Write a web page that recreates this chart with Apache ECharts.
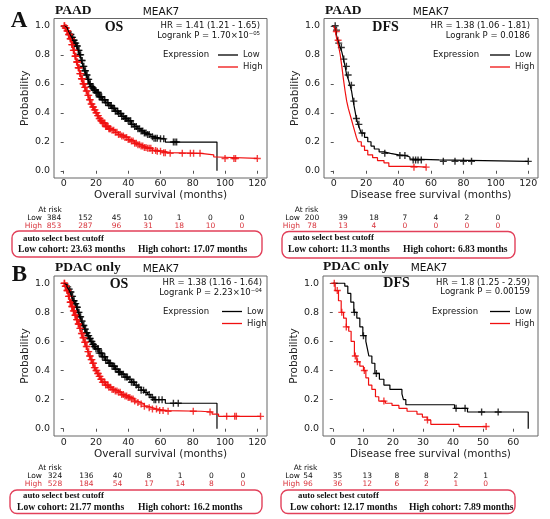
<!DOCTYPE html>
<html>
<head>
<meta charset="utf-8">
<script src="https://cdn.jsdelivr.net/npm/echarts@6/dist/echarts.min.js"></script>
<style>
html,body{margin:0;padding:0;background:#fff;}
#main{width:550px;height:519px;}
</style>
</head>
<body>
<div id="main"></div>
<script>
// KM curves: [months, survival]
var aOsLow = [[0,1],[1,0.99],[2,0.98],[3,0.96],[4,0.94],[5,0.92],[6,0.9],[7,0.88],[8,0.86],[9,0.83],[10,0.8],[11,0.76],[12,0.72],[13,0.69],[14,0.66],[15,0.63],[16,0.6],[17,0.58],[18,0.57],[19,0.555],[20,0.54],[22,0.51],[24,0.49],[26,0.47],[28,0.45],[30,0.43],[32,0.41],[34,0.395],[36,0.375],[38,0.36],[40,0.345],[42,0.32],[44,0.305],[46,0.29],[48,0.275],[50,0.26],[52,0.25],[54,0.235],[56,0.225],[60,0.22],[63,0.198],[95,0]];
var aOsHigh = [[0,1],[1,0.985],[2,0.965],[3,0.94],[4,0.91],[5,0.87],[6,0.83],[7,0.79],[8,0.75],[9,0.71],[10,0.67],[11,0.635],[12,0.6],[13,0.575],[14,0.55],[15,0.52],[16,0.49],[17,0.46],[18,0.44],[19,0.42],[20,0.4],[21,0.38],[22,0.36],[23,0.345],[24,0.33],[26,0.305],[28,0.29],[30,0.28],[32,0.265],[34,0.25],[36,0.24],[38,0.23],[40,0.215],[42,0.205],[44,0.19],[46,0.18],[48,0.17],[50,0.16],[52,0.155],[55,0.14],[58,0.135],[62,0.125],[66,0.12],[85,0.11],[93,0.095],[95,0.085],[120,0.085]];
var aOsLowCens = [4,4.5,5,5.5,6,6.5,7,7.5,8,8.5,9,9.5,10,10.5,11,11.5,12,12.5,13,13.5,14,14.5,15,15.5,16,16.5,17,17.5,18,18.5,19,19.5,20,20.5,21,21.5,22,22.5,23,23.5,24,25,25.5,26,27,27.5,28,29,29.5,30,31,31.5,32,33,33.5,34,35,35.5,36,37,38,38.5,39,40,41,41.5,42,43,44,45,46,47,48,49,50,51,52,53,55,56,57,58,60,62,68,69,70];
var aOsHighCens = [0.3,0.6,1,1.3,1.6,2,2.3,2.6,3,3.3,3.6,4,4.3,4.6,5,5.3,5.6,6,6.3,6.6,7,7.3,7.6,8,8.3,8.6,9,9.3,9.6,10,10.3,10.6,11,11.3,11.6,12,12.3,12.6,13,13.5,14,14.5,15,15.5,16,16.5,17,17.5,18,18.5,19,19.5,20,20.5,21,21.5,22,22.5,23,23.5,24,24.5,25,25.5,26,26.5,27,27.5,28,28.5,29,30,31,32,33,34,35,36,37,38,39,40,41,42,43,44,45,46,47,48,49,50,51,52,53,54,55,57,58,60,62,63,66,73.5,78.5,80.5,84.5,100,105.5,106.5,120];

var aDfsLow = [[0,1],[1,0.97],[2,0.92],[3,0.88],[4,0.85],[5,0.82],[6,0.77],[7,0.72],[8,0.66],[9,0.63],[10,0.59],[11,0.55],[12,0.48],[13,0.42],[14,0.36],[15,0.32],[16,0.29],[17,0.26],[19,0.23],[21,0.2],[23,0.17],[25,0.15],[28,0.13],[31,0.12],[35,0.11],[40,0.105],[44,0.095],[47,0.08],[49,0.075],[65,0.065],[120,0.065]];
var aDfsHigh = [[0,1],[1,0.96],[2,0.9],[3,0.86],[4,0.8],[5,0.72],[6,0.63],[7,0.55],[8,0.48],[9,0.43],[10,0.39],[11,0.35],[12,0.31],[13,0.27],[14,0.23],[15,0.2],[17,0.17],[19,0.14],[21,0.11],[24,0.09],[27,0.07],[31,0.055],[34,0.03],[49,0.025],[57,0.025]];
var aDfsLowCens = [0.9,1.7,3.1,4.7,6.2,7.8,8.9,10.9,12.4,14,15.5,17.5,31.5,40.8,43.9,49,50.5,52,54,67.6,74.8,80,85,120];
var aDfsHighCens = [1.6,2.7,49.5,57];

var bOsLow = [[0,1],[1,0.99],[2,0.975],[3,0.96],[4,0.94],[5,0.91],[6,0.88],[7,0.86],[8,0.835],[9,0.8],[10,0.77],[11,0.74],[12,0.71],[13,0.685],[14,0.66],[15,0.64],[16,0.62],[17,0.6],[18,0.58],[19,0.565],[20,0.55],[22,0.52],[24,0.495],[26,0.47],[28,0.45],[30,0.43],[32,0.41],[34,0.39],[36,0.375],[38,0.355],[40,0.34],[42,0.32],[44,0.3],[46,0.285],[48,0.265],[50,0.25],[52,0.235],[54,0.215],[56,0.2],[63,0.175],[95,0]];
var bOsHigh = [[0,1],[1,0.98],[2,0.95],[3,0.91],[4,0.87],[5,0.84],[6,0.81],[7,0.78],[8,0.75],[9,0.72],[10,0.69],[11,0.655],[12,0.625],[13,0.595],[14,0.565],[15,0.53],[16,0.5],[17,0.475],[18,0.45],[19,0.42],[20,0.4],[21,0.38],[22,0.36],[23,0.34],[24,0.32],[26,0.3],[28,0.285],[30,0.27],[32,0.26],[34,0.25],[36,0.235],[38,0.225],[40,0.215],[42,0.205],[44,0.19],[46,0.18],[48,0.17],[50,0.155],[52,0.145],[55,0.135],[58,0.125],[64,0.12],[85,0.115],[92,0.1],[96,0.085],[122,0.085]];
var bOsLowCens = [2.5,3.5,4,4.5,5,5.5,6,6.5,7,7.5,8,8.5,9,9.5,10,10.5,11,11.5,12,12.5,13,13.5,14,14.5,15,15.5,16,16.5,17,17.5,18,18.5,19,19.5,20,21,21.5,22,23,23.5,24,25,25.5,26,27,28,28.5,29,30,31,31.5,32,33,34,34.5,35,36,37,38,39,39.5,41,42,43,43.5,45,46.5,48,49.5,51,53,55,56,57,59,61,68,71];
var bOsHighCens = [0.3,0.6,1,1.3,1.6,2,2.3,2.6,3,3.3,3.6,4,4.3,4.6,5,5.3,5.6,6,6.3,6.6,7,7.3,7.6,8,8.3,8.6,9,9.3,9.6,10,10.5,11,11.5,12,12.5,13,13.5,14,14.5,15,15.5,16,16.5,17,17.5,18,18.5,19,19.5,20,20.5,21,21.5,22,22.5,23,23.5,24,25,25.5,26,27,27.5,28,29,30,31,32,33,34,35,36,37,38,39,40,41,42,43,44,46,48,50,53,55,57.5,59.5,61.6,64.7,80.3,90.7,101,106,107,122];

var bDfsLow = [[0,1],[4,0.98],[5,0.93],[6,0.87],[7,0.8],[8,0.76],[9,0.7],[10,0.64],[11,0.6],[11.5,0.55],[12,0.5],[13,0.45],[14,0.38],[15.5,0.34],[17,0.3],[19,0.27],[23,0.24],[23.5,0.2],[24.3,0.165],[40.5,0.14],[44.8,0.115],[65,0]];
var bDfsHigh = [[0,1],[0.8,0.95],[1.9,0.88],[2.8,0.8],[3.6,0.76],[4.5,0.7],[5.3,0.67],[6.1,0.6],[7.2,0.5],[8,0.46],[9,0.43],[10.2,0.4],[11,0.35],[11.9,0.3],[13,0.27],[14.2,0.22],[15.3,0.19],[17.5,0.175],[19.7,0.16],[22,0.14],[24.7,0.12],[28,0.1],[29.8,0.08],[31.4,0.06],[32.6,0.03],[42,0.015],[51.2,0.015]];
var bDfsLowCens = [7.2,10.2,14.5,41,44,49.5,55];
var bDfsHighCens = [0.5,1.5,3,4.5,7.5,8.2,10.5,17,31.5,51];

// at-risk tables
var aOsRiskLow = [384,152,45,10,1,0,0];
var aOsRiskHigh = [853,287,96,31,18,10,0];
var aDfsRiskLow = [200,39,18,7,4,2,0];
var aDfsRiskHigh = [78,13,4,0,0,0,0];
var bOsRiskLow = [324,136,40,8,1,0,0];
var bOsRiskHigh = [528,184,54,17,14,8,0];
var bDfsRiskLow = [54,35,13,8,8,2,1];
var bDfsRiskHigh = [96,36,12,6,2,1,0];

// tick labels
var ticks120 = [0,20,40,60,80,100,120];
var ticks60 = [0,10,20,30,40,50,60];
var probTicks = [0,0.2,0.4,0.6,0.8,1.0];

var SANS = 'DejaVu Sans';
var SERIF = 'Liberation Serif';
var RED = '#f01010';
var BOX = '#e2405a';
var plus = 'path://M4,0h2v4h4v2h-4v4h-2v-4h-4v-2h4z';

// step value of a curve at time t (for placing censor marks)
function survAt(curve, t) {
    var s = curve[0][1];
    for (var i = 0; i < curve.length; i++) {
        if (curve[i][0] <= t) s = curve[i][1];
    }
    return s;
}

function km(gi, name, curve, cens, color) {
    return [{
        name: name, type: 'line', step: 'end', xAxisIndex: gi, yAxisIndex: gi,
        data: curve, showSymbol: false, silent: true,
        itemStyle: {color: color}, lineStyle: {color: color, width: 1.2}
    }, {
        name: name + ' censored', type: 'scatter', xAxisIndex: gi, yAxisIndex: gi,
        data: cens.map(function (t) { return [t, survAt(curve, t)]; }),
        symbol: plus, symbolSize: 7, silent: true,
        itemStyle: {color: color}
    }];
}

function xAx(gi, min, max, ticks, name, gap, margin) {
    return {
        type: 'value', gridIndex: gi, min: min, max: max,
        name: name, nameLocation: 'middle', nameGap: gap,
        nameTextStyle: {fontSize: 10.5, color: '#222', fontFamily: SANS},
        axisLine: {show: false},
        axisTick: {show: true, length: 3, customValues: ticks, lineStyle: {color: '#555'}},
        axisLabel: {customValues: ticks, margin: margin, fontSize: 9.5, color: '#222', fontFamily: SANS},
        splitLine: {show: false}
    };
}

function yAx(gi) {
    return {
        type: 'value', gridIndex: gi, min: -0.05, max: 1.05,
        name: 'Probability', nameLocation: 'middle', nameGap: 18,
        nameTextStyle: {fontSize: 10.5, color: '#222', fontFamily: SANS},
        axisLine: {show: false},
        axisTick: {show: true, length: 3, customValues: probTicks, lineStyle: {color: '#555'}},
        axisLabel: {customValues: probTicks, margin: 4, fontSize: 9.5, color: '#222', fontFamily: SANS,
            formatter: function (v) { return v.toFixed(1); }},
        splitLine: {show: false}
    };
}

function leg(left, top) {
    return {
        data: ['Low', 'High'], orient: 'vertical', left: left, top: top,
        icon: 'rect', itemWidth: 20, itemHeight: 1.3, itemGap: 1, selectedMode: false,
        textStyle: {fontSize: 8.5, fontFamily: SANS, color: '#222', lineHeight: 11}
    };
}

var g = [];
function txt(x, y, s, size, opt) {
    opt = opt || {};
    g.push({
        type: 'text', x: x, y: y, silent: true,
        style: {
            text: s, fill: opt.fill || '#111',
            fontSize: size, fontFamily: opt.font || SANS, fontWeight: opt.bold ? 'bold' : 'normal',
            align: opt.align || 'center', verticalAlign: 'middle'
        }
    });
}
function box(x, y, w, h) {
    g.push({type: 'rect', silent: true, shape: {x: x, y: y, width: w, height: h, r: 7},
        style: {fill: 'none', stroke: BOX, lineWidth: 1.4}});
}
function riskTable(xLab, xAt, y0, x0, step, low, high) {
    txt(xAt, y0, 'At risk', 7.5);
    txt(xLab, y0 + 8, 'Low', 7.5, {align: 'right'});
    txt(xLab, y0 + 15.8, 'High', 7.5, {align: 'right', fill: '#d8343c'});
    low.forEach(function (v, i) { txt(x0 + i * step, y0 + 8, String(v), 7.5); });
    high.forEach(function (v, i) { txt(x0 + i * step, y0 + 15.8, String(v), 7.5, {fill: '#d8343c'}); });
}
function panelText(px, py, tag, kind, kx, hr, lr, hrx, ex) {
    txt(px, py, tag, 13.5, {font: SERIF, bold: true, align: 'left'});
    txt(px + 106, py + 1.5, 'MEAK7', 10.5);
    txt(kx, py + 16.5, kind, 14, {font: SERIF, bold: true});
    txt(hrx, py + 15.5, hr, 8.5, {align: 'right'});
    txt(hrx, py + 25, lr, 8.5, {align: 'right'});
    txt(ex, py + 44.5, 'Expression', 8.5, {align: 'left'});
}

var CF = 9.6; // cohort line font size

// panel A
txt(19, 21, 'A', 23, {font: SERIF, bold: true});
panelText(55, 10.5, 'PAAD', 'OS', 114, 'HR = 1.41 (1.21 - 1.65)', 'Logrank P = 1.70\u00d710\u207b\u2070\u2075', 260, 163);
panelText(325, 10.5, 'PAAD', 'DFS', 385.5, 'HR = 1.38 (1.06 - 1.81)', 'Logrank P = 0.0186', 530, 433);
riskTable(42, 50, 210.5, 54, 31.3, aOsRiskLow, aOsRiskHigh);
riskTable(300, 306.5, 210.5, 312, 31, aDfsRiskLow, aDfsRiskHigh);
box(12, 231, 250, 26);
box(282, 231.5, 233, 26.5);
txt(23, 238.3, 'auto select best cutoff', 8.8, {font: SERIF, bold: true, align: 'left'});
txt(18, 249.5, 'Low cohort: 23.63 months', CF, {font: SERIF, bold: true, align: 'left'});
txt(138, 249.5, 'High cohort: 17.07 months', CF, {font: SERIF, bold: true, align: 'left'});
txt(293, 238, 'auto select best cutoff', 8.8, {font: SERIF, bold: true, align: 'left'});
txt(288, 249.5, 'Low cohort: 11.3 months', CF, {font: SERIF, bold: true, align: 'left'});
txt(403, 249.5, 'High cohort: 6.83 months', CF, {font: SERIF, bold: true, align: 'left'});

// panel B
txt(19.5, 275.5, 'B', 23, {font: SERIF, bold: true});
panelText(55, 267.5, 'PDAC only', 'OS', 119, 'HR = 1.38 (1.16 - 1.64)', 'Logrank P = 2.23\u00d710\u207b\u2070\u2074', 262, 163);
panelText(323, 267, 'PDAC only', 'DFS', 396.5, 'HR = 1.8 (1.25 - 2.59)', 'Logrank P = 0.00159', 530, 432);
riskTable(42, 50, 468.5, 55, 31.3, bOsRiskLow, bOsRiskHigh);
riskTable(300, 305.5, 468.5, 308, 29.6, bDfsRiskLow, bDfsRiskHigh);
box(10, 490, 252, 23.5);
box(281, 490, 234, 23.5);
txt(23, 495.5, 'auto select best cutoff', 8.8, {font: SERIF, bold: true, align: 'left'});
txt(17, 507.5, 'Low cohort: 21.77 months', CF, {font: SERIF, bold: true, align: 'left'});
txt(138, 507.5, 'High cohort: 16.2 months', CF, {font: SERIF, bold: true, align: 'left'});
txt(298, 495.5, 'auto select best cutoff', 8.8, {font: SERIF, bold: true, align: 'left'});
txt(290, 507.5, 'Low cohort: 12.17 months', CF, {font: SERIF, bold: true, align: 'left'});
txt(409, 507.5, 'High cohort: 7.89 months', CF, {font: SERIF, bold: true, align: 'left'});

var gridStyle = {show: true, borderColor: '#666', borderWidth: 1, backgroundColor: 'transparent'};
var myChart = echarts.init(document.getElementById('main'), null, {renderer: 'canvas'});
var option = {
    animation: false,
    backgroundColor: '#fff',
    grid: [
        Object.assign({left: 54, top: 18.5, width: 213, height: 159.5}, gridStyle),
        Object.assign({left: 324, top: 18.5, width: 214, height: 159.5}, gridStyle),
        Object.assign({left: 54, top: 276, width: 213, height: 160}, gridStyle),
        Object.assign({left: 323, top: 276, width: 215, height: 160}, gridStyle)
    ],
    xAxis: [
        xAx(0, -6, 126, ticks120, 'Overall survival (months)', 11, 1),
        xAx(1, -6, 126, ticks120, 'Disease free survival (months)', 11, 1),
        xAx(2, -6, 126, ticks120, 'Overall survival (months)', 12.5, 2),
        xAx(3, -3.25, 68.25, ticks60, 'Disease free survival (months)', 12.5, 2)
    ],
    yAxis: [yAx(0), yAx(1), yAx(2), yAx(3)],
    legend: [leg(213, 44.5), leg(485, 44.5), leg(217, 301), leg(485, 301)],
    series: [].concat(
        km(0, 'Low', aOsLow, aOsLowCens, '#000'),
        km(0, 'High', aOsHigh, aOsHighCens, RED),
        km(1, 'Low', aDfsLow, aDfsLowCens, '#000'),
        km(1, 'High', aDfsHigh, aDfsHighCens, RED),
        km(2, 'Low', bOsLow, bOsLowCens, '#000'),
        km(2, 'High', bOsHigh, bOsHighCens, RED),
        km(3, 'Low', bDfsLow, bDfsLowCens, '#000'),
        km(3, 'High', bDfsHigh, bDfsHighCens, RED)
    ),
    graphic: g
};
myChart.setOption(option);
</script>
</body>
</html>
